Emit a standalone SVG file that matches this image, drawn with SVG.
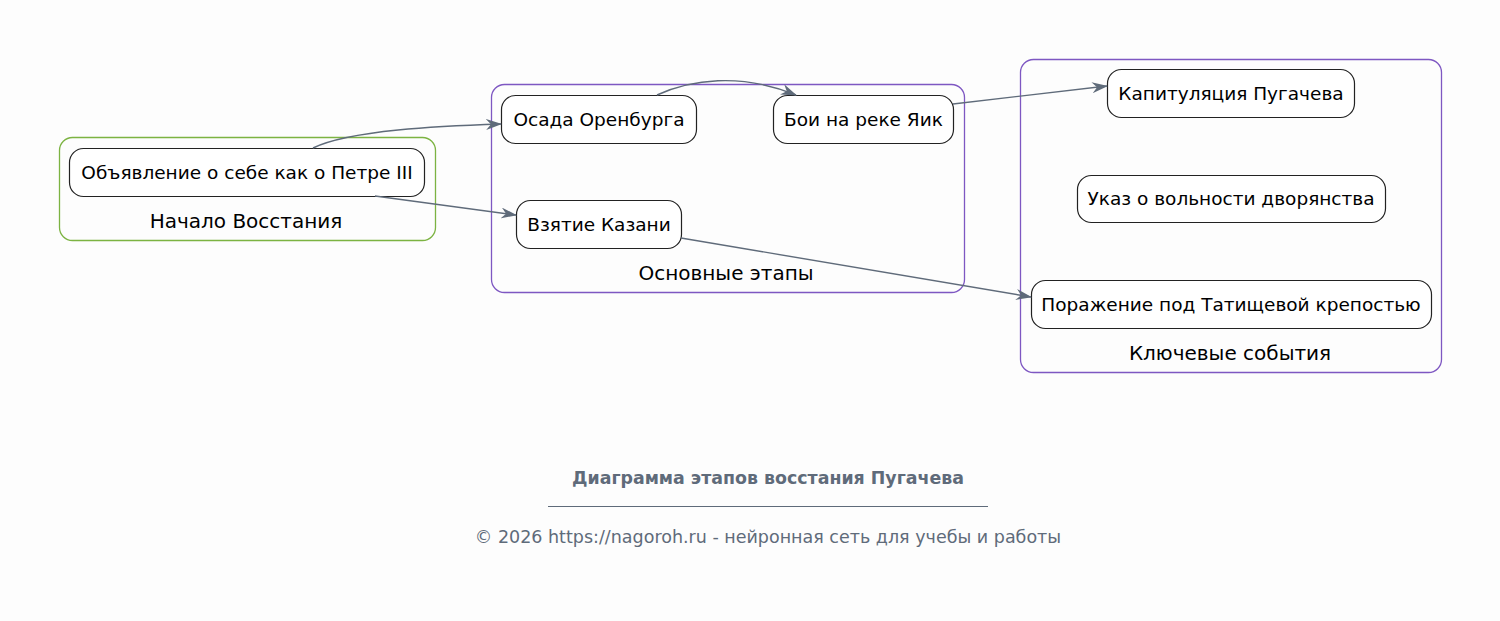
<svg xmlns="http://www.w3.org/2000/svg" width="1500" height="621" viewBox="0 0 1500 621">
<defs>
<style>
.bg{fill:#fdfdfd}
.cl{fill:none;stroke-width:1.3}
.green{stroke:#7cb342}
.purple{stroke:#7e57c2}
.node rect{fill:#ffffff;stroke:#222;stroke-width:1.2}
.t{font-family:"DejaVu Sans",sans-serif;font-size:18.5px;fill:#000;text-anchor:middle}
.cll{font-family:"DejaVu Sans",sans-serif;font-size:20px;fill:#000;text-anchor:middle}
.e{fill:none;stroke:#5f6b7a;stroke-width:1.4;marker-end:url(#arr)}
.title{font-family:"DejaVu Sans",sans-serif;font-size:17.4px;font-weight:bold;fill:#5f6b7a;text-anchor:middle}
.foot{font-family:"DejaVu Sans",sans-serif;font-size:17.5px;fill:#5f6b7a;text-anchor:middle}
</style>
<marker id="arr" viewBox="0 0 16 11" refX="15" refY="5.5" markerWidth="16" markerHeight="11" markerUnits="userSpaceOnUse" orient="auto">
<path d="M0,0 L16,5.5 L0,11 L5,5.5 z" fill="#5f6b7a"/>
</marker>
</defs>
<rect class="bg" width="1500" height="621"/>
<g id="cluster-start">
<rect class="cl green" x="59.500" y="137.500" width="376" height="103" rx="13"/>
<text class="cll" x="246" y="228">Начало Восстания</text>
</g>
<g id="cluster-main">
<rect class="cl purple" x="491.500" y="84.500" width="473" height="208" rx="13"/>
<text class="cll" x="726" y="280">Основные этапы</text>
</g>
<g id="cluster-key">
<rect class="cl purple" x="1020.500" y="59.500" width="421" height="313" rx="13"/>
<text class="cll" x="1230" y="360">Ключевые события</text>
</g>
<g id="n-declaration" class="node">
<rect x="69.500" y="148.500" width="355" height="48" rx="14"/>
<text class="t" x="247" y="178.500">Объявление о себе как о Петре III</text>
</g>
<g id="n-orenburg" class="node">
<rect x="501.500" y="95.500" width="195" height="48" rx="14"/>
<text class="t" x="599" y="125.500">Осада Оренбурга</text>
</g>
<g id="n-yaik" class="node">
<rect x="773.500" y="95.500" width="180" height="48" rx="14"/>
<text class="t" x="863.500" y="125.500">Бои на реке Яик</text>
</g>
<g id="n-kazan" class="node">
<rect x="516.500" y="200.500" width="165" height="48" rx="14"/>
<text class="t" x="599" y="230.500">Взятие Казани</text>
</g>
<g id="n-capitulation" class="node">
<rect x="1107.500" y="69.500" width="247" height="48" rx="14"/>
<text class="t" x="1231" y="99.500">Капитуляция Пугачева</text>
</g>
<g id="n-ukaz" class="node">
<rect x="1077.500" y="175.500" width="308" height="47" rx="14"/>
<text class="t" x="1231" y="205">Указ о вольности дворянства</text>
</g>
<g id="n-defeat" class="node">
<rect x="1031.500" y="280.500" width="400" height="48" rx="14"/>
<text class="t" x="1231" y="310.500">Поражение под Татищевой крепостью</text>
</g>
<g id="connectors">
<path class="e" d="M313,148 C350,130 440,126 501,124"/>
<path class="e" d="M375,196 L516,215"/>
<path class="e" d="M657,95 C690,80 740,72 796,95"/>
<path class="e" d="M953,104 L1107,86"/>
<path class="e" d="M681,238 L1031,297"/>
</g>
<g id="footer">
<text class="title" x="768" y="484">Диаграмма этапов восстания Пугачева</text>
<line x1="548" y1="506.500" x2="988" y2="506.500" stroke="#5f6b7a" stroke-width="1"/>
<text class="foot" x="768" y="543">© 2026 https://nagoroh.ru - нейронная сеть для учебы и работы</text>
</g>
</svg>
